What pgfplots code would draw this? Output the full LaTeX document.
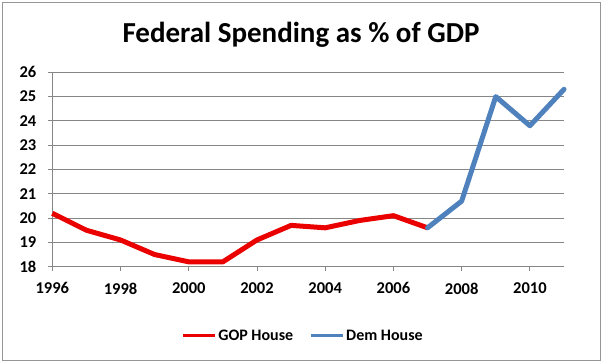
\documentclass[border=0pt]{standalone}
\usepackage{fontspec}
\setmainfont{Carlito}
\usepackage{pgfplots}
\pgfplotsset{compat=1.18}
\definecolor{gopred}{RGB}{235,0,0}
\definecolor{demblue}{RGB}{79,129,189}
\definecolor{gridgray}{RGB}{134,134,134}
\definecolor{framegray}{RGB}{150,150,150}
\begin{document}
\begin{tikzpicture}[x=1pt,y=1pt]
\useasboundingbox (0,0) rectangle (603,364);
\draw[framegray, line width=1pt] (2,3) rectangle (600,361);
\node[font=\fontsize{29}{34}\selectfont\bfseries, anchor=base] at (301,321) {Federal Spending as \% of GDP};
\begin{axis}[
  at={(52.3pt,97.3pt)}, anchor=south west,
  scale only axis, width=511.7pt, height=194.4pt,
  xmin=1996, xmax=2011, ymin=18, ymax=26,
  xtick={1996,1998,...,2010}, ytick={18,19,...,26},
  /pgf/number format/assume math mode=true,
  x tick label style={/pgf/number format/1000 sep={}},
  ticklabel style={font=\fontsize{16.5}{19}\selectfont\bfseries},
  ymajorgrids, grid style={gridgray, line width=0.8pt},
  axis x line*=bottom, axis y line*=left,
  axis line style={gridgray, line width=0.8pt, -},
  tick align=outside, major tick length=4.5pt,
  tick style={gridgray, line width=0.8pt},
  xticklabel style={yshift=-8pt},
  yticklabel style={xshift=-8pt},
  legend columns=2,
  legend style={at={(0.49,-0.356)}, anchor=center, draw=none, fill=none,
    font=\fontsize{16}{19}\selectfont\bfseries,
    /tikz/every even column/.append style={column sep=14pt}},
  legend image code/.code={\draw[#1, line width=3pt, line cap=butt] (0pt,0pt) -- (32pt,0pt);},
  clip=false,
]
\addplot[gopred, line width=5pt, line join=round] coordinates {
(1996,20.2) (1997,19.5) (1998,19.1) (1999,18.5) (2000,18.2) (2001,18.2)
(2002,19.1) (2003,19.7) (2004,19.6) (2005,19.9) (2006,20.1) (2007,19.6)};
\addlegendentry{GOP House}
\addplot[demblue, line width=5pt, line join=round, line cap=round] coordinates {
(2007,19.6) (2008,20.7) (2009,25.0) (2010,23.8) (2011,25.3)};
\addlegendentry{Dem House}
\end{axis}
\end{tikzpicture}
\end{document}
